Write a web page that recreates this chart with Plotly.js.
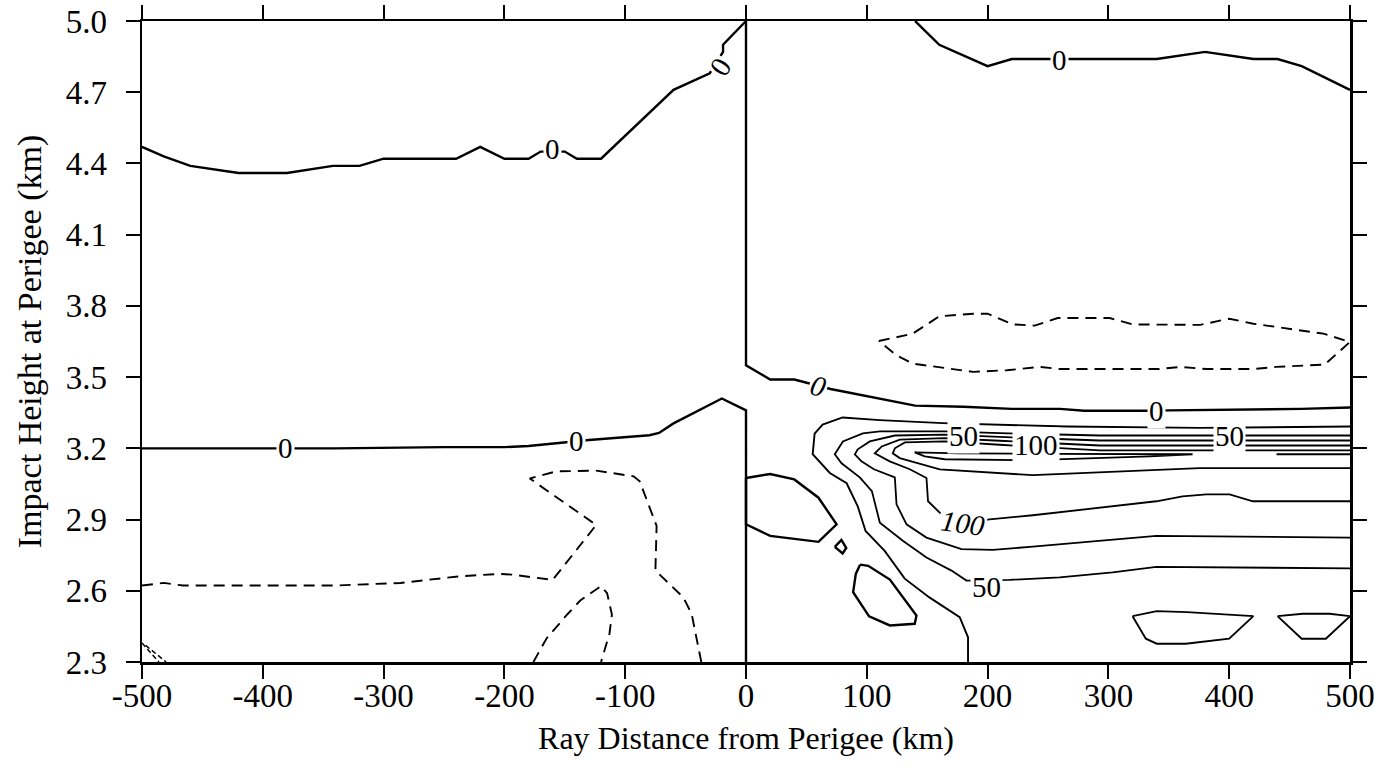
<!DOCTYPE html>
<html><head><meta charset="utf-8">
<script src="https://cdn.plot.ly/plotly-3.0.1.min.js"></script>
<style>html,body{margin:0;padding:0;background:#fff}#chart{width:1384px;height:771px}</style>
</head><body><div id="chart"></div>
<script>
// ---- axis ticks ----
const xTicks = [-500,-400,-300,-200,-100,0,100,200,300,400,500];
const xTickLabels = ['-500','-400','-300','-200','-100','0','100','200','300','400','500'];
const yTicks = [2.3,2.6,2.9,3.2,3.5,3.8,4.1,4.4,4.7,5.0];
const yTickLabels = ['2.3','2.6','2.9','3.2','3.5','3.8','4.1','4.4','4.7','5.0'];

// ---- zero contours (solid) ----
const zeroUL_x = [-500,-482,-460,-420,-380,-342,-320,-300,-240,-220,-200,-180,-170,-150,-140,-120,-60,-30,-19,-19,0];
const zeroUL_y = [4.47,4.43,4.39,4.36,4.36,4.39,4.39,4.42,4.42,4.47,4.42,4.42,4.45,4.45,4.42,4.42,4.71,4.78,4.87,4.90,5.0];
const zeroUR_x = [140,160,200,220,270,340,380,420,440,460,500];
const zeroUR_y = [5.0,4.90,4.81,4.84,4.84,4.84,4.87,4.84,4.84,4.81,4.71];
const zeroML_x = [-500,-400,-340,-250,-200,-180,-150,-130,-80,-72,-60,-20,0,0];
const zeroML_y = [3.20,3.20,3.20,3.205,3.205,3.21,3.225,3.235,3.255,3.265,3.305,3.41,3.36,2.3];
const zeroMR_x = [0,0,20,40,70,140,180,220,260,280,330,350,460,500];
const zeroMR_y = [5.0,3.55,3.49,3.49,3.45,3.38,3.375,3.366,3.366,3.358,3.358,3.36,3.366,3.372];

// ---- negative contours (dashed) ----
const negR_x = [110,138,160,188,200,221,239,258,301,320,376,400,420,478,500,479,439,420,381,360,342,260,243,216,188,160,138,124.5,110];
const negR_y = [3.652,3.683,3.756,3.767,3.767,3.722,3.717,3.749,3.749,3.722,3.72,3.746,3.725,3.683,3.648,3.553,3.543,3.534,3.534,3.543,3.534,3.534,3.543,3.529,3.522,3.543,3.557,3.592,3.652];
const negL_x = [-500,-482,-466,-340,-286,-259,-237,-204,-194,-160,-124,-179,-157,-124,-93,-88,-74,-75,-52,-45,-37];
const negL_y = [2.622,2.633,2.622,2.622,2.633,2.647,2.661,2.671,2.668,2.646,2.877,3.073,3.103,3.106,3.082,3.061,2.873,2.685,2.573,2.503,2.3];
const negIn_x = [-176,-165,-148,-137,-120,-115,-111,-113,-120];
const negIn_y = [2.30,2.40,2.50,2.56,2.62,2.59,2.50,2.42,2.30];
const negCA_x = [-500,-486];
const negCA_y = [2.38,2.30];
const negCB_x = [-497,-480];
const negCB_y = [2.37,2.30];

// ---- small positive closed contours ----
const s1_x = [0,20,40,60,75,60,20,0,0];
const s1_y = [3.075,3.092,3.069,2.992,2.880,2.806,2.831,2.880,3.075];
const s2_x = [73.5,79,83,80,73.5];
const s2_y = [2.785,2.814,2.78,2.757,2.785];
const s3_x = [94.4,101.2,119.1,141.1,139.7,119.1,101.9,88.7,90.9,94.4];
const s3_y = [2.710,2.705,2.647,2.496,2.461,2.454,2.492,2.594,2.671,2.710];
const s4_x = [320,340,365,420,400,364,340,331,320];
const s4_y = [2.493,2.514,2.51,2.493,2.398,2.377,2.377,2.398,2.493];
const s5_x = [440,461,483,500,480,460,440];
const s5_y = [2.493,2.503,2.503,2.493,2.398,2.398,2.493];

// ---- positive ridge contours (25, 50, 75, 100, 125, 150) ----
const c25_x = [500,375.5,265.7,196,162.9,110.7,80,63.4,56.8,55.2,69.4,83.3,92.4,99,114.8,131.4,152.1,176.9,183.8,183.8];
const c25_y = [3.292,3.286,3.292,3.300,3.306,3.319,3.330,3.300,3.262,3.175,3.096,3.053,2.957,2.852,2.768,2.651,2.571,2.489,2.404,2.300];
const c50_x = [500,375.5,292.8,210,164.5,110.8,96.7,80.2,73.5,79.1,94.2,104.2,110.8,130.1,149.4,170.1,182.5,218.3,259.7,303.5,339.7,500];
const c50_y = [3.254,3.254,3.254,3.264,3.271,3.271,3.263,3.229,3.175,3.137,3.078,3.020,2.887,2.810,2.740,2.685,2.643,2.646,2.656,2.677,2.701,2.694];
const c75_x = [500,375.5,292.8,210,164.5,123.2,102.5,92.5,90.1,95.6,105.9,123.2,124.6,132.9,149.4,178.4,204.3,237.4,339.7,500];
const c75_y = [3.233,3.233,3.233,3.248,3.258,3.254,3.229,3.196,3.175,3.145,3.112,3.078,2.964,2.880,2.824,2.775,2.772,2.786,2.831,2.824];
const c100_x = [500,375.5,292.8,210,164.5,127.3,112.4,106.6,119,135.6,149.4,150.7,160.4,179.4,201.7,237.4,339.7,361.4,381.1,400.3,419.6,500];
const c100_y = [3.212,3.212,3.212,3.232,3.243,3.237,3.208,3.179,3.145,3.112,3.075,2.977,2.929,2.887,2.901,2.918,2.977,2.998,3.006,3.006,2.977,2.977];
const c125_x = [500,375.5,292.8,210,164.5,131.5,123.2,121.5,127.3,160.4,237.4,375.5,500];
const c125_y = [3.191,3.191,3.191,3.215,3.229,3.225,3.200,3.179,3.159,3.111,3.087,3.117,3.117];
const c150_x = [139.6,176.9,251.8,369.7,334.2,237.4,164.5,148,139.6];
const c150_y = [3.183,3.179,3.177,3.175,3.166,3.150,3.154,3.166,3.183];
const c150b_x = [439.2,500];
const c150b_y = [3.175,3.175];

// ---- contour labels ----
const labelText = ['0','0','0','0','0','0','0','50','100','50','50','100'];
const labelX = [-160.6,-20.7,259.6,-381.5,-140,59.7,339.7,180.2,240.4,400.3,199.1,179.4];
const labelY = [4.461,4.809,4.835,3.20,3.229,3.464,3.358,3.250,3.216,3.250,2.615,2.887];
// label styling (angle, italic)
const labelStyle = [[0,false],[-57,false],[0,false],[0,false],[0,false],[15,true],[0,false],[0,false],[0,false],[0,false],[0,false],[8,true]];

const traces = [];
function addLine(xs, ys, dash, width){
  traces.push({type:'scatter', mode:'lines', x:xs, y:ys,
    line:{color:'black', width:width, dash:dash, shape:'linear'},
    hoverinfo:'skip', showlegend:false});
}
const SOLID='solid', DASH='11px,7px';
addLine(zeroUL_x, zeroUL_y, SOLID, 2.4);
addLine(zeroUR_x, zeroUR_y, SOLID, 2.4);
addLine(zeroML_x, zeroML_y, SOLID, 2.4);
addLine(zeroMR_x, zeroMR_y, SOLID, 2.4);
addLine(negR_x, negR_y, DASH, 1.9);
addLine(negL_x, negL_y, DASH, 1.9);
addLine(negIn_x, negIn_y, DASH, 1.9);
addLine(negCA_x, negCA_y, '5px,3px', 1.5);
addLine(negCB_x, negCB_y, '5px,3px', 1.5);
addLine(s1_x, s1_y, SOLID, 2.4);
addLine(s2_x, s2_y, SOLID, 2.4);
addLine(s3_x, s3_y, SOLID, 2.4);
addLine(s4_x, s4_y, SOLID, 1.9);
addLine(s5_x, s5_y, SOLID, 1.9);
addLine(c25_x, c25_y, SOLID, 1.9);
addLine(c50_x, c50_y, SOLID, 1.8);
addLine(c75_x, c75_y, SOLID, 1.8);
addLine(c100_x, c100_y, SOLID, 1.8);
addLine(c125_x, c125_y, SOLID, 1.8);
addLine(c150_x, c150_y, SOLID, 1.8);
addLine(c150b_x, c150b_y, SOLID, 1.8);

const FONT = 'Liberation Serif, Times New Roman, serif';
const annotations = labelText.map((t,i)=>({
  x:labelX[i], y:labelY[i], xref:'x', yref:'y',
  text: labelStyle[i][1] ? '<i>'+t+'</i>' : t,
  showarrow:false, textangle:labelStyle[i][0],
  font:{family:FONT, size:29, color:'black'},
  bgcolor:'white', borderpad:1
}));

const axisCommon = {
  ticks:'outside', ticklen:14, tickwidth:2, tickcolor:'black',
  showline:true, linewidth:2.5, linecolor:'black', mirror:'ticks',
  showgrid:false, zeroline:false, ticklabeloverflow:'allow',
  tickfont:{family:FONT, size:33, color:'black'}
};
const layout = {
  width:1384, height:771,
  margin:{l:142, r:34, t:21, b:109},
  paper_bgcolor:'white', plot_bgcolor:'white',
  showlegend:false,
  xaxis: Object.assign({}, axisCommon, {
    range:[-500.001,500.001], tickmode:'array', tickvals:xTicks, ticktext:xTickLabels,
    ticklabelstandoff:-11,
    title:{text:'Ray Distance from Perigee (km)', font:{family:FONT, size:32, color:'black'}, standoff:14}
  }),
  yaxis: Object.assign({}, axisCommon, {
    range:[2.2999,5.0001], tickmode:'array', tickvals:yTicks, ticktext:yTickLabels,
    ticklabelstandoff:12,
    title:{text:'Impact Height at Perigee (km)', font:{family:FONT, size:34, color:'black'}, standoff:14}
  }),
  annotations: annotations
};
Plotly.newPlot('chart', traces, layout, {staticPlot:true, displayModeBar:false});
</script>
</body></html>
